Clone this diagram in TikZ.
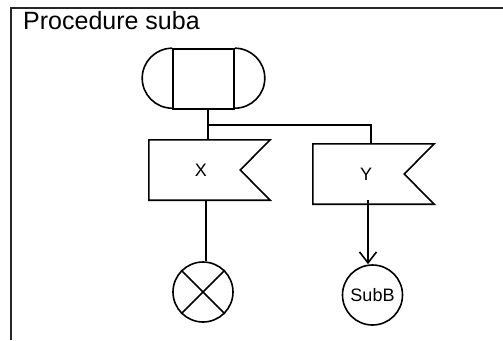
\documentclass[tikz,border=0pt]{standalone}
\usepackage{fontspec}
\setmainfont{Liberation Sans}
\usetikzlibrary{arrows.meta}
\begin{document}
\begin{tikzpicture}[x=1pt,y=-1pt,
  ln/.style={line width=1.6pt, line join=miter},
  thin/.style={line width=1.2pt},
  blk/.style={rectangle, minimum width=121pt, minimum height=60pt, inner sep=0pt},
  circ/.style={circle, draw, ln, minimum size=60pt, inner sep=0pt},
  lbl/.style={font=\fontsize{18pt}{21pt}\selectfont, inner sep=0pt}
]
\useasboundingbox (0,0) rectangle (503,340);
% frame
\coordinate (fbl) at (11,340);
\coordinate (ftl) at (11,8);
\coordinate (ftr) at (503,8);
\draw[line width=1.8pt, black!85] (fbl) -- (ftl) -- (ftr);
\node[anchor=base west, inner sep=0pt, font=\fontsize{25pt}{29pt}\selectfont] (title) at (23,29) {Procedure suba};

% start terminator
\node[rectangle, draw, ln, minimum width=61pt, minimum height=60pt, inner sep=0pt] (start) at (203.5,79) {};
\draw[ln] (start.north west) arc[start angle=90, end angle=270, radius=30pt];
\draw[ln] (start.north east) arc[start angle=90, end angle=-90, radius=30pt];

% X box
\node[blk] (X) at (209.5,170) {};
\draw[ln] (X.north west) -- (X.north east) -- ([xshift=-30pt]X.east) -- (X.south east) -- (X.south west) -- cycle;
\node[lbl] (Xl) at ([xshift=-8.5pt]X.center) {X};

% Y box
\node[blk] (Y) at (373.5,174) {};
\draw[ln] (Y.north west) -- (Y.north east) -- ([xshift=-30pt]Y.east) -- (Y.south east) -- (Y.south west) -- cycle;
\node[lbl] (Yl) at ([xshift=-7.5pt]Y.center) {Y};

% end circle
\node[circ] (E) at (203,292) {};
\draw[ln] (E.north west) -- (E.south east);
\draw[ln] (E.north east) -- (E.south west);

% SubB
\node[circ, lbl] (S) at (372.5,295) {SubB};

% connectors
\coordinate (sx) at ([xshift=-1.5pt]X.north |- start.south);
\coordinate (br) at ([xshift=-1.5pt]X.north |- 0,125);
\coordinate (xn) at ([xshift=-1.5pt]X.north);
\draw[ln] (sx) -- (xn);
\draw[thin] (br) -| ([xshift=-2.5pt]Y.north);
\coordinate (xs) at ([xshift=-3.5pt]X.south);
\draw[ln] (xs) -- (xs |- E.north);
\coordinate (ys) at ([xshift=-5.5pt, yshift=4pt]Y.south);
\draw[ln, -{Straight Barb[length=11pt, width=17pt, line width=1.6pt]}] (ys) -- (ys |- S.north);
\end{tikzpicture}
\end{document}
